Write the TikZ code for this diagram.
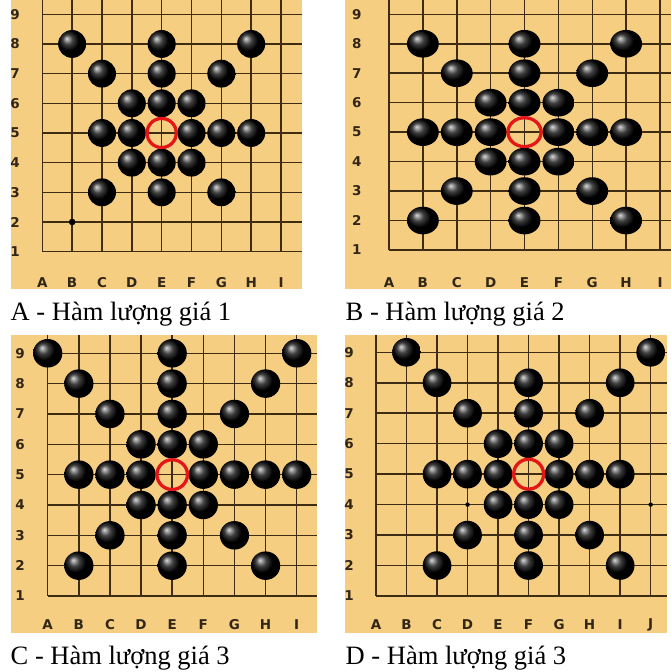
\documentclass[tikz,border=0pt]{standalone}
\usepackage{fontspec}
\setmainfont{Liberation Serif}
\newfontfamily\coordfont{DejaVu Sans}
\usetikzlibrary{calc}
\definecolor{woodtan}{RGB}{246,206,130}
\definecolor{gridbrown}{RGB}{62,44,20}
\definecolor{labelbrown}{RGB}{50,38,22}
\definecolor{markred}{RGB}{228,22,24}
\tikzset{
  board/.style={fill=woodtan},
  gridline/.style={draw=gridbrown, line width=1.5pt},
  stone/.style={ball color=black},
  lastmove/.style={draw=markred, line width=3.3pt},
  hoshi/.style={fill=black},
  coordlabel/.style={font=\coordfont\bfseries\fontsize{13.5}{13.5}\selectfont, text=labelbrown, inner sep=0pt},
  caption/.style={font=\fontsize{26.5}{26.5}\selectfont, anchor=base west, inner sep=0pt},
}

\begin{document}
\begin{tikzpicture}[x=1pt, y=1pt]
  \fill[white] (0,0) rectangle (671,672);
  \useasboundingbox (0,0) rectangle (671,672);

  % board A
  \fill[board] (11,383) rectangle (302,672);
  \coordinate (Ane) at (302,672);
  \coordinate (Alab) at (15,389);
  \begin{scope}[shift={(12.46,390.63)}, x=29.84pt, y=29.675pt]
    \foreach \c in {1,...,9} \draw[gridline] (\c,1) -- (\c,1 |- Ane);
    \foreach \r in {1,...,9} \draw[gridline] (1,\r) -- (Ane |- 1,\r);
    \foreach \l [count=\c] in {A,B,C,D,E,F,G,H,I}
      \node[coordlabel] (A-col\l) at (\c,1 |- Alab) {\l};
    \foreach \r in {1,...,9} \node[coordlabel] (A-row\r) at (Alab |- 1,\r) {\r};
    \fill[hoshi] (2,2) circle[radius=3.3pt];
    \foreach \c/\r in {2/8,5/8,8/8, 3/7,5/7,7/7, 4/6,5/6,6/6, 3/5,4/5,6/5,7/5,8/5,
                       4/4,5/4,6/4, 3/3,5/3,7/3}
      \shade[stone] (\c,\r) circle[radius=0.47];
    \draw[lastmove] (5,5) circle[radius=0.49];
  \end{scope}
  \node[caption] (capA) at (10.5,351.3) {A - Hàm lượng giá 1};

  % board B
  \fill[board] (345,383) rectangle (671,672);
  \coordinate (Bne) at (671,672);
  \coordinate (Blab) at (356.7,389);
  \begin{scope}[shift={(355.13,392.54)}, x=33.875pt, y=29.46pt]
    \foreach \c in {1,...,9} \draw[gridline] (\c,1) -- (\c,1 |- Bne);
    \foreach \r in {1,...,9} \draw[gridline] (1,\r) -- (Bne |- 1,\r);
    \foreach \l [count=\c] in {A,B,C,D,E,F,G,H,I}
      \node[coordlabel] (B-col\l) at (\c,1 |- Blab) {\l};
    \foreach \r in {1,...,9} \node[coordlabel] (B-row\r) at (Blab |- 1,\r) {\r};
    \foreach \c/\r in {2/8,5/8,8/8, 3/7,5/7,7/7, 4/6,5/6,6/6, 2/5,3/5,4/5,6/5,7/5,8/5,
                       4/4,5/4,6/4, 3/3,5/3,7/3, 2/2,5/2,8/2}
      \shade[stone] (\c,\r) circle[radius=0.47];
    \draw[lastmove] (5,5) circle[radius=0.49];
  \end{scope}
  \node[caption] (capB) at (345.5,351.3) {B - Hàm lượng giá 2};

  % board C
  \fill[board] (11,39) rectangle (317,337);
  \coordinate (Cne) at (317,337);
  \coordinate (Clab) at (20,47);
  \begin{scope}[shift={(16.58,45.66)}, x=31.125pt, y=30.34pt]
    \foreach \c in {1,...,9} \draw[gridline] (\c,1) -- (\c,1 |- Cne);
    \foreach \r in {1,...,9} \draw[gridline] (1,\r) -- (Cne |- 1,\r);
    \foreach \l [count=\c] in {A,B,C,D,E,F,G,H,I}
      \node[coordlabel] (C-col\l) at (\c,1 |- Clab) {\l};
    \foreach \r in {1,...,9} \node[coordlabel] (C-row\r) at (Clab |- 1,\r) {\r};
    \foreach \c/\r in {1/9,5/9,9/9, 2/8,5/8,8/8, 3/7,5/7,7/7, 4/6,5/6,6/6,
                       2/5,3/5,4/5,6/5,7/5,8/5,9/5, 4/4,5/4,6/4, 3/3,5/3,7/3, 2/2,5/2,8/2}
      \shade[stone] (\c,\r) circle[radius=0.47];
    \draw[lastmove] (5,5) circle[radius=0.49];
  \end{scope}
  \node[caption] (capC) at (10.5,7) {C - Hàm lượng giá 3};

  % board D
  \fill[board] (345,39) rectangle (667,337);
  \coordinate (Dne) at (667,337);
  \coordinate (Dlab) at (349,47);
  \begin{scope}[shift={(345.48,45.54)}, x=30.52pt, y=30.46pt]
    \foreach \c in {1,...,10} \draw[gridline] (\c,1) -- (\c,1 |- Dne);
    \foreach \r in {1,...,9} \draw[gridline] (1,\r) -- (Dne |- 1,\r);
    \foreach \l [count=\c] in {A,B,C,D,E,F,G,H,I,J}
      \node[coordlabel] (D-col\l) at (\c,1 |- Dlab) {\l};
    \foreach \r in {1,...,9} \node[coordlabel] (D-row\r) at (Dlab |- 1,\r) {\r};
    \fill[hoshi] (4,4) circle[radius=2.2pt];
    \fill[hoshi] (10,4) circle[radius=2.2pt];
    \foreach \c/\r in {2/9,10/9, 3/8,6/8,9/8, 4/7,6/7,8/7, 5/6,6/6,7/6,
                       3/5,4/5,5/5,7/5,8/5,9/5, 5/4,6/4,7/4, 4/3,6/3,8/3, 3/2,6/2,9/2}
      \shade[stone] (\c,\r) circle[radius=0.47];
    \draw[lastmove] (6,5) circle[radius=0.49];
  \end{scope}
  \node[caption] (capD) at (345.5,7) {D - Hàm lượng giá 3};
\end{tikzpicture}
\end{document}
